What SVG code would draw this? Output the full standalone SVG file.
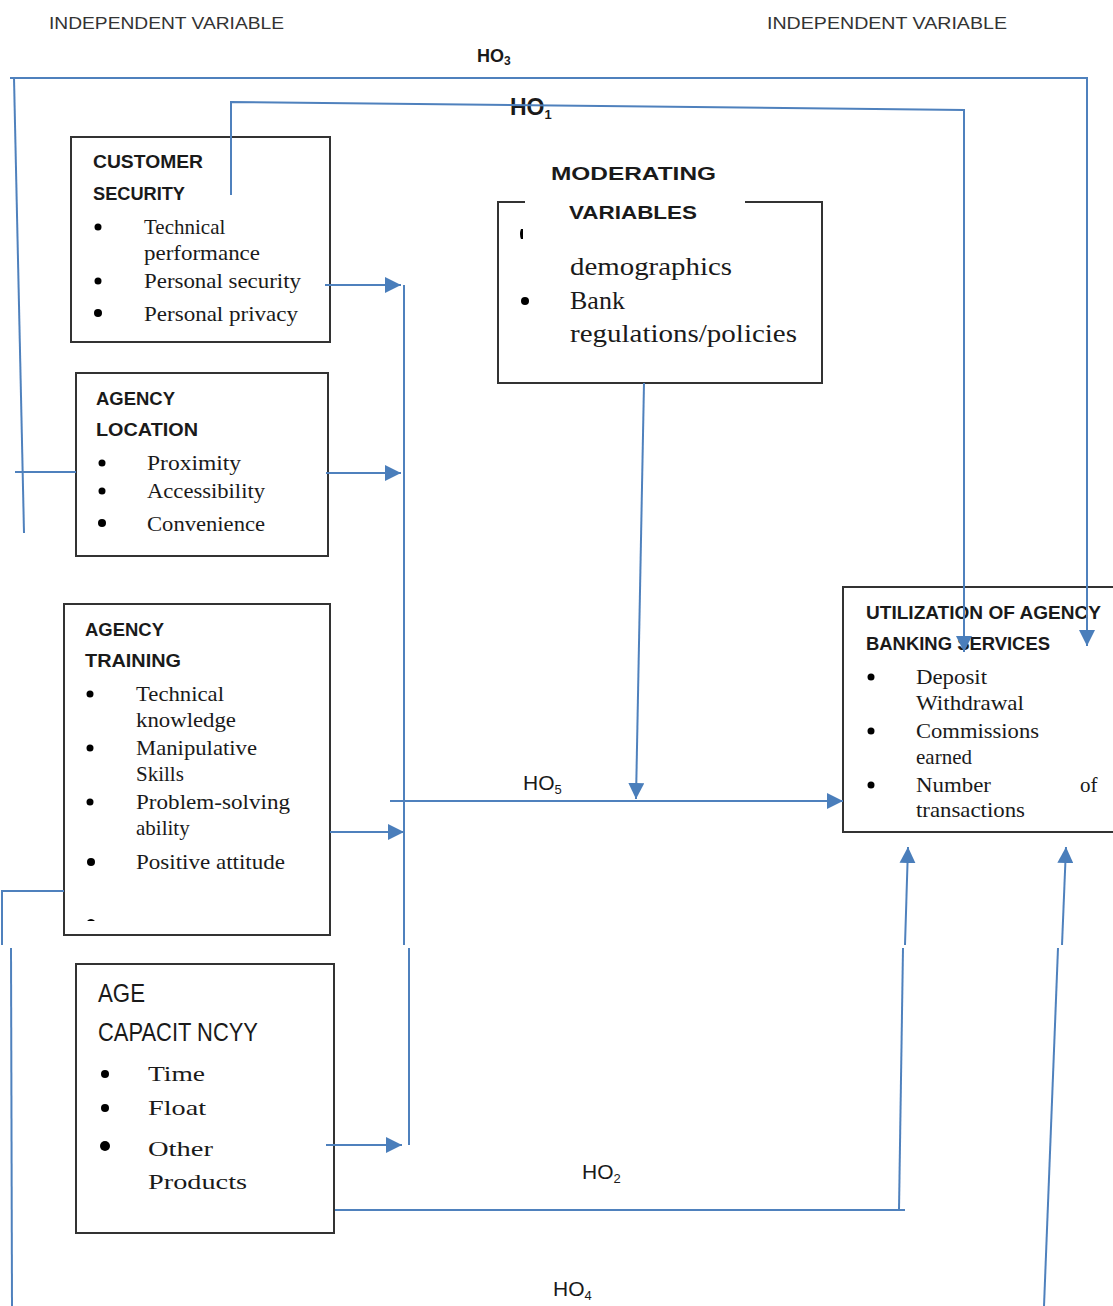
<svg xmlns="http://www.w3.org/2000/svg" width="1113" height="1306" viewBox="0 0 1113 1306">
<style>
.box{fill:#fff;stroke:#333;stroke-width:2}
.ln{fill:none;stroke:#4F81BD;stroke-width:2}
.hd{font-family:"Liberation Sans",Arial,sans-serif;font-weight:bold;fill:#1a1a1a;font-size:19px}
.lt{font-family:"Liberation Sans",Arial,sans-serif;fill:#333;font-size:17px}
.sf{font-family:"Liberation Serif","Times New Roman",serif;fill:#1a1a1a;font-size:21px}
.sf2{font-family:"Liberation Serif","Times New Roman",serif;fill:#1a1a1a;font-size:26px}
.ho{font-family:"Liberation Sans",Arial,sans-serif;fill:#1a1a1a}
.dot{fill:#000}
</style>
<defs>
<marker id="ah" markerUnits="userSpaceOnUse" markerWidth="18" markerHeight="16" refX="16" refY="8" orient="auto">
<path d="M0,0 L16,8 L0,16 Z" fill="#4A7EBB"/>
</marker>
</defs>
<rect width="1113" height="1306" fill="#fff"/>

<g id="labels">
<text class="lt" x="49" y="29" textLength="235" lengthAdjust="spacingAndGlyphs">INDEPENDENT VARIABLE</text>
<text class="lt" x="767" y="29" textLength="240" lengthAdjust="spacingAndGlyphs">INDEPENDENT  VARIABLE</text>
<text class="ho" x="477" y="62" font-size="18" font-weight="bold">HO<tspan font-size="12" dy="3">3</tspan></text>
<text class="ho" x="510" y="115" font-size="23" font-weight="bold">HO<tspan font-size="13" dy="4">1</tspan></text>
<text class="ho" x="523" y="790" font-size="21">HO<tspan font-size="13" dy="4">5</tspan></text>
<text class="ho" x="582" y="1179" font-size="21">HO<tspan font-size="13" dy="4">2</tspan></text>
<text class="ho" x="553" y="1296" font-size="21">HO<tspan font-size="13" dy="4">4</tspan></text>
</g>

<g id="customer-security">
<rect class="box" x="71" y="137" width="259" height="205"/>
<text class="hd" x="93" y="168" textLength="110" lengthAdjust="spacingAndGlyphs">CUSTOMER</text>
<text class="hd" x="93" y="200" textLength="92" lengthAdjust="spacingAndGlyphs">SECURITY</text>
<circle class="dot" cx="98" cy="227" r="3.5"/>
<circle class="dot" cx="98" cy="281" r="3.5"/>
<circle class="dot" cx="98" cy="313" r="4"/>
<text class="sf" x="144" y="234">Technical</text>
<text class="sf" x="144" y="260" textLength="116" lengthAdjust="spacingAndGlyphs">performance</text>
<text class="sf" x="144" y="288" textLength="157" lengthAdjust="spacingAndGlyphs">Personal security</text>
<text class="sf" x="144" y="321" textLength="154" lengthAdjust="spacingAndGlyphs">Personal privacy</text>
</g>

<g id="agency-location">
<rect class="box" x="76" y="373" width="252" height="183"/>
<text class="hd" x="96" y="405" textLength="79" lengthAdjust="spacingAndGlyphs">AGENCY</text>
<text class="hd" x="96" y="436" textLength="102" lengthAdjust="spacingAndGlyphs">LOCATION</text>
<circle class="dot" cx="102" cy="463" r="3.5"/>
<circle class="dot" cx="102" cy="491" r="3.5"/>
<circle class="dot" cx="102" cy="523" r="4"/>
<text class="sf" x="147" y="470" textLength="94" lengthAdjust="spacingAndGlyphs">Proximity</text>
<text class="sf" x="147" y="498" textLength="118" lengthAdjust="spacingAndGlyphs">Accessibility</text>
<text class="sf" x="147" y="531" textLength="118" lengthAdjust="spacingAndGlyphs">Convenience</text>
</g>

<g id="agency-training">
<rect class="box" x="64" y="604" width="266" height="331"/>
<text class="hd" x="85" y="636" textLength="79" lengthAdjust="spacingAndGlyphs">AGENCY</text>
<text class="hd" x="85" y="667" textLength="96" lengthAdjust="spacingAndGlyphs">TRAINING</text>
<circle class="dot" cx="90" cy="694" r="3.5"/>
<circle class="dot" cx="90" cy="748" r="3.5"/>
<circle class="dot" cx="90" cy="802" r="3.5"/>
<circle class="dot" cx="91" cy="862" r="4"/>
<path d="M87,921 Q91,917 95,921 Z" fill="#000"/>
<text class="sf" x="136" y="701" textLength="88" lengthAdjust="spacingAndGlyphs">Technical</text>
<text class="sf" x="136" y="727" textLength="100" lengthAdjust="spacingAndGlyphs">knowledge</text>
<text class="sf" x="136" y="755" textLength="121" lengthAdjust="spacingAndGlyphs">Manipulative</text>
<text class="sf" x="136" y="781">Skills</text>
<text class="sf" x="136" y="809" textLength="154" lengthAdjust="spacingAndGlyphs">Problem-solving</text>
<text class="sf" x="136" y="835">ability</text>
<text class="sf" x="136" y="869" textLength="149" lengthAdjust="spacingAndGlyphs">Positive attitude</text>
</g>

<g id="agency-capacity">
<rect class="box" x="76" y="964" width="258" height="269"/>
<text class="ho" x="98" y="1002" font-size="25" fill="#333" textLength="47" lengthAdjust="spacingAndGlyphs">AGE</text>
<text class="ho" x="98" y="1041" font-size="25" fill="#333" textLength="160" lengthAdjust="spacingAndGlyphs">CAPACIT NCYY</text>
<circle class="dot" cx="105" cy="1074" r="4"/>
<circle class="dot" cx="105" cy="1108" r="4"/>
<circle class="dot" cx="105" cy="1146" r="5"/>
<text class="sf" x="148" y="1081" font-size="25" textLength="57" lengthAdjust="spacingAndGlyphs">Time</text>
<text class="sf" x="148" y="1115" font-size="25" textLength="58" lengthAdjust="spacingAndGlyphs">Float</text>
<text class="sf" x="148" y="1156" font-size="25" textLength="65" lengthAdjust="spacingAndGlyphs">Other</text>
<text class="sf" x="148" y="1189" font-size="25" textLength="99" lengthAdjust="spacingAndGlyphs">Products</text>
</g>

<g id="moderating-variables">
<path d="M525,202 L498,202 L498,383 L822,383 L822,202 L745,202" fill="#fff" stroke="#333" stroke-width="2"/>
<text class="hd" x="551" y="180" font-size="23" textLength="165" lengthAdjust="spacingAndGlyphs">MODERATING</text>
<text class="hd" x="569" y="219" font-size="23" textLength="128" lengthAdjust="spacingAndGlyphs">VARIABLES</text>
<path d="M521,229 Q519,234 521,239 L523,239 L523,229 Z" fill="#000"/>
<circle class="dot" cx="525" cy="301" r="4"/>
<text class="sf2" x="570" y="275" textLength="162" lengthAdjust="spacingAndGlyphs">demographics</text>
<text class="sf2" x="570" y="309">Bank</text>
<text class="sf2" x="570" y="342" textLength="227" lengthAdjust="spacingAndGlyphs">regulations/policies</text>
</g>

<g id="utilization">
<rect class="box" x="843" y="587" width="290" height="245"/>
<text class="hd" x="866" y="619" font-size="19" textLength="235" lengthAdjust="spacingAndGlyphs">UTILIZATION OF AGENCY</text>
<text class="hd" x="866" y="650" font-size="19" textLength="184" lengthAdjust="spacingAndGlyphs">BANKING SERVICES</text>
<circle class="dot" cx="871" cy="677" r="3.5"/>
<circle class="dot" cx="871" cy="731" r="3.5"/>
<circle class="dot" cx="871" cy="785" r="3.5"/>
<text class="sf" x="916" y="684" textLength="71" lengthAdjust="spacingAndGlyphs">Deposit</text>
<text class="sf" x="916" y="710" textLength="108" lengthAdjust="spacingAndGlyphs">Withdrawal</text>
<text class="sf" x="916" y="738" textLength="123" lengthAdjust="spacingAndGlyphs">Commissions</text>
<text class="sf" x="916" y="764">earned</text>
<text class="sf" x="916" y="792" textLength="75" lengthAdjust="spacingAndGlyphs">Number</text>
<text class="sf" x="1080" y="792">of</text>
<text class="sf" x="916" y="817" textLength="109" lengthAdjust="spacingAndGlyphs">transactions</text>
</g>

<g id="connectors">
<polyline class="ln" points="10,78 1087,78 1087,646" marker-end="url(#ah)"/>
<line class="ln" x1="14" y1="78" x2="24" y2="533"/>
<line class="ln" x1="15" y1="472" x2="76" y2="472"/>
<polyline class="ln" points="231,195 231,102 964,110 964,652" marker-end="url(#ah)"/>
<line class="ln" x1="325" y1="285" x2="401" y2="285" marker-end="url(#ah)"/>
<line class="ln" x1="326" y1="473" x2="401" y2="473" marker-end="url(#ah)"/>
<line class="ln" x1="330" y1="832" x2="404" y2="832" marker-end="url(#ah)"/>
<line class="ln" x1="326" y1="1145" x2="402" y2="1145" marker-end="url(#ah)"/>
<line class="ln" x1="404" y1="285" x2="404" y2="945" stroke="#8EAADB"/>
<line class="ln" x1="409" y1="948" x2="409" y2="1145" stroke="#8EAADB"/>
<line class="ln" x1="644" y1="383" x2="636" y2="799" marker-end="url(#ah)"/>
<line class="ln" x1="390" y1="801" x2="843" y2="801" marker-end="url(#ah)"/>
<line class="ln" x1="335" y1="1210" x2="905" y2="1210"/>
<line class="ln" x1="899" y1="1210" x2="903" y2="948"/>
<line class="ln" x1="905" y1="945" x2="908" y2="847" marker-end="url(#ah)"/>
<polyline class="ln" points="64,891 2,891 2,945"/>
<line class="ln" x1="11" y1="948" x2="12" y2="1306"/>
<line class="ln" x1="1044" y1="1306" x2="1058" y2="948"/>
<line class="ln" x1="1062" y1="945" x2="1066" y2="847" marker-end="url(#ah)"/>
</g>
</svg>
